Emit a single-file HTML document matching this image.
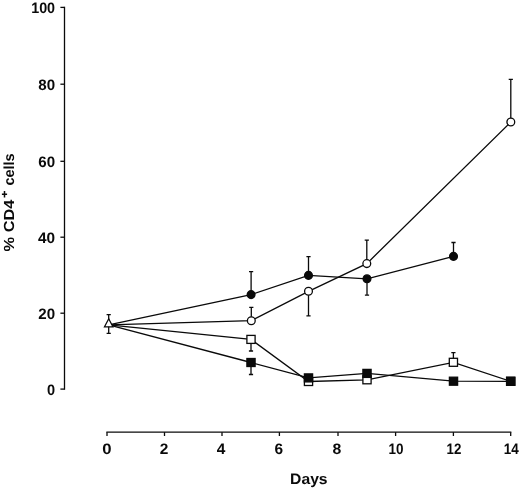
<!DOCTYPE html><html><head><meta charset="utf-8"><style>html,body{margin:0;padding:0;background:#fff;overflow:hidden}svg{display:block;position:absolute;left:0;top:0;will-change:transform}text{font-family:"Liberation Sans",sans-serif;font-weight:bold;text-rendering:geometricPrecision;fill:#0a0a0a}</style></head><body>
<svg width="520" height="488" viewBox="0 0 520 488">
<rect width="520" height="488" fill="#fff"/>
<g stroke="#0a0a0a" stroke-width="1.3" fill="none" stroke-linecap="butt">
<path d="M64.5 6.75V389.75"/>
<path d="M60.4 7.4H64.5"/>
<path d="M60.4 84.2H64.5"/>
<path d="M60.4 161.3H64.5"/>
<path d="M60.4 237.2H64.5"/>
<path d="M60.4 313.2H64.5"/>
<path d="M60.4 389.1H64.5"/>
<path d="M106.35 432.2H511.34999999999997"/>
<path d="M107.0 432.2V436"/>
<path d="M164.5 432.2V436"/>
<path d="M222.0 432.2V436"/>
<path d="M279.4 432.2V436"/>
<path d="M338.0 432.2V436"/>
<path d="M395.6 432.2V436"/>
<path d="M453.4 432.2V436"/>
<path d="M510.7 432.2V436"/>
</g>
<text x="31.2" y="12.8" font-size="15.1" textLength="23.9" lengthAdjust="spacingAndGlyphs">100</text>
<text x="38.3" y="89.6" font-size="15.1" textLength="16.8" lengthAdjust="spacingAndGlyphs">80</text>
<text x="38.3" y="166.7" font-size="15.1" textLength="16.8" lengthAdjust="spacingAndGlyphs">60</text>
<text x="38.0" y="242.6" font-size="15.1" textLength="17.1" lengthAdjust="spacingAndGlyphs">40</text>
<text x="38.3" y="318.6" font-size="15.1" textLength="16.8" lengthAdjust="spacingAndGlyphs">20</text>
<text x="47.0" y="394.5" font-size="15.1" textLength="8.1" lengthAdjust="spacingAndGlyphs">0</text>
<text x="102.35" y="453.9" font-size="15.1" textLength="9.3" lengthAdjust="spacingAndGlyphs">0</text>
<text x="159.7" y="453.9" font-size="15.1" textLength="8.6" lengthAdjust="spacingAndGlyphs">2</text>
<text x="216.7" y="453.9" font-size="15.1" textLength="8.6" lengthAdjust="spacingAndGlyphs">4</text>
<text x="274.5" y="453.9" font-size="15.1" textLength="8.6" lengthAdjust="spacingAndGlyphs">6</text>
<text x="332.4" y="453.9" font-size="15.1" textLength="8.8" lengthAdjust="spacingAndGlyphs">8</text>
<text x="388.6" y="453.9" font-size="15.1" textLength="15.0" lengthAdjust="spacingAndGlyphs">10</text>
<text x="446.5" y="453.9" font-size="15.1" textLength="14.8" lengthAdjust="spacingAndGlyphs">12</text>
<text x="503.7" y="453.9" font-size="15.1" textLength="15.0" lengthAdjust="spacingAndGlyphs">14</text>
<text x="290.1" y="483.6" font-size="15.1" textLength="37.5" lengthAdjust="spacingAndGlyphs">Days</text>
<text transform="translate(13.7,251.4) rotate(-90)" font-size="14.6" textLength="51.8" lengthAdjust="spacingAndGlyphs">% CD4</text>
<path d="M4.5 190.9V197.5M1.9 194.2H7.1" stroke="#0a0a0a" stroke-width="1.5" fill="none"/>
<text transform="translate(13.7,185.6) rotate(-90)" font-size="14.6" textLength="32.2" lengthAdjust="spacingAndGlyphs">cells</text>
<g stroke="#0a0a0a" stroke-width="1.3" fill="none">
<polyline points="108.7,324.8 251.0,339.4 308.5,381.5 367.0,379.8 453.4,362.3 510.7,381.3"/>
<path d="M251.0 339.4V351.0M248.9 351.0h4.2"/>
<path d="M453.4 362.3V352.7M451.29999999999995 352.7h4.2"/>
</g>
<g stroke="#0a0a0a" stroke-width="1.3" fill="#fff">
<rect x="246.9" y="335.4" width="8.2" height="8.0"/>
<rect x="304.4" y="377.5" width="8.2" height="8.0"/>
<rect x="362.9" y="375.8" width="8.2" height="8.0"/>
<rect x="449.3" y="358.3" width="8.2" height="8.0"/>
<rect x="506.6" y="377.3" width="8.2" height="8.0"/>
</g>
<g stroke="#0a0a0a" stroke-width="1.3" fill="none">
<polyline points="108.7,324.8 251.0,362.5 308.5,377.9 367.0,373.4 453.5,381.2 510.7,381.3"/>
<path d="M251.0 362.5V374.5M248.9 374.5h4.2"/>
</g>
<g stroke="#0a0a0a" stroke-width="1.3" fill="#0a0a0a">
<rect x="246.9" y="358.5" width="8.2" height="8.0"/>
<rect x="304.4" y="373.9" width="8.2" height="8.0"/>
<rect x="362.9" y="369.4" width="8.2" height="8.0"/>
<rect x="449.4" y="377.2" width="8.2" height="8.0"/>
<rect x="506.6" y="377.3" width="8.2" height="8.0"/>
</g>
<g stroke="#0a0a0a" stroke-width="1.3" fill="none">
<polyline points="108.7,324.8 251.3,320.7 308.5,291.3 366.8,263.6 510.8,122.0"/>
<path d="M251.3 320.7V307.4M249.20000000000002 307.4h4.2"/>
<path d="M308.5 291.3V315.9M306.4 315.9h4.2"/>
<path d="M366.8 263.6V240.2M364.7 240.2h4.2"/>
<path d="M510.8 122.0V79.3M508.7 79.3h4.2"/>
</g>
<g stroke="#0a0a0a" stroke-width="1.3" fill="#fff">
<circle cx="251.3" cy="320.7" r="3.9"/>
<circle cx="308.5" cy="291.3" r="3.9"/>
<circle cx="366.8" cy="263.6" r="3.9"/>
<circle cx="510.8" cy="122.0" r="3.9"/>
</g>
<g stroke="#0a0a0a" stroke-width="1.3" fill="none">
<polyline points="108.7,324.8 251.1,294.6 308.5,275.4 367.0,278.8 453.5,256.4"/>
<path d="M251.1 294.6V271.6M249.0 271.6h4.2"/>
<path d="M308.5 275.4V256.6M306.4 256.6h4.2"/>
<path d="M367.0 278.8V295.2M364.9 295.2h4.2"/>
<path d="M453.5 256.4V242.5M451.4 242.5h4.2"/>
</g>
<g stroke="#0a0a0a" stroke-width="1.3" fill="#0a0a0a">
<circle cx="251.1" cy="294.6" r="3.9"/>
<circle cx="308.5" cy="275.4" r="3.9"/>
<circle cx="367.0" cy="278.8" r="3.9"/>
<circle cx="453.5" cy="256.4" r="3.9"/>
</g>
<g stroke="#0a0a0a" stroke-width="1.3" fill="none"><path d="M108.7 314.6V333.4M106.60000000000001 314.6h4.2M106.60000000000001 333.4h4.2"/></g>
<path d="M108.7 318.8L112.9 326.8H104.5Z" fill="#fff" stroke="#0a0a0a" stroke-width="1.3" stroke-linejoin="miter"/>
</svg></body></html>
